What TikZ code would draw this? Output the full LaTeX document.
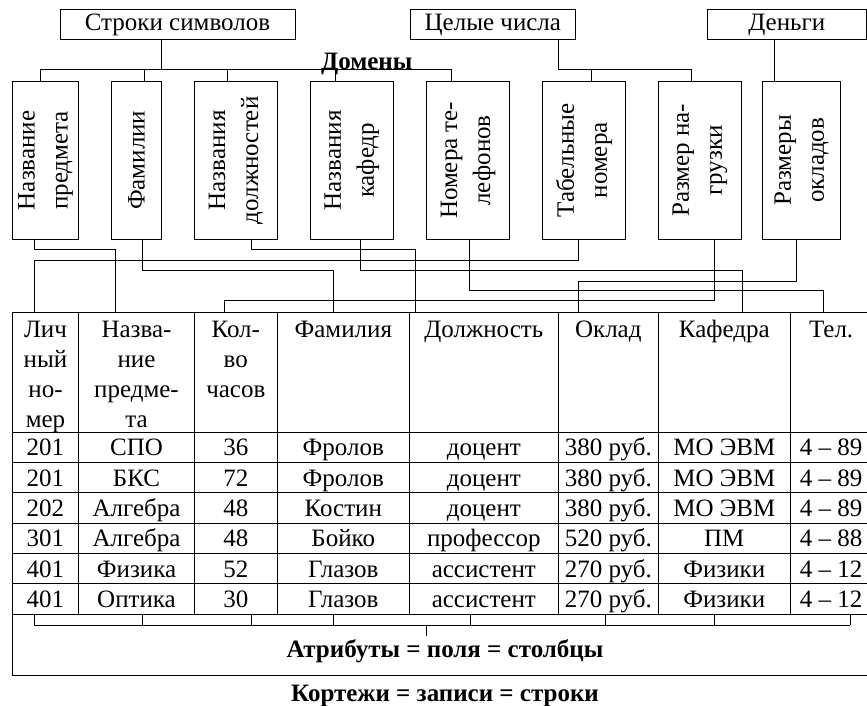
\documentclass[tikz,border=0pt]{standalone}
\usepackage{fontspec}
\setmainfont{Liberation Serif}
\begin{document}
\begin{tikzpicture}[x=1pt,y=-1pt,line width=1pt,
  txt/.style={font=\fontsize{25}{30}\selectfont},
  topbox/.style={txt,draw,inner sep=0pt,outer sep=0pt,minimum height=30.7pt,text height=17pt,text depth=5pt},
  dombox/.style={draw,anchor=north west,inner sep=0pt,outer sep=0pt,minimum height=157.3pt},
  domtext/.style={rotate=90,align=center,inner sep=0pt,font=\fontsize{25}{33}\selectfont},
  headcell/.style={draw,anchor=north west,inner sep=0pt,outer sep=0pt,minimum height=120pt},
  headtext/.style={txt,anchor=north,align=center,inner sep=0pt,yshift=-4pt},
  cell/.style={txt,draw,anchor=north west,inner sep=0pt,outer sep=0pt,minimum height=30.33pt,text height=22pt,text depth=5pt},
  caption/.style={font=\fontsize{25}{30}\selectfont\bfseries,inner sep=0pt,anchor=base}]
\useasboundingbox (0,0) rectangle (867,706);

% domain groups
\node[topbox,minimum width=235pt] (strs) at (177.5,24.65) {Строки символов};
\node[topbox,minimum width=165.7pt] (ints) at (492.85,24.65) {Целые числа};
\node[topbox,minimum width=159pt] (money) at (786.8,24.65) {Деньги};
\node[caption] (dom) at (366.7,70) {Домены};

% domains
\foreach \n/\x/\w/\t in {
  1/12.3/66.4/{Название\\предмета},
  2/111.3/50.4/{Фамилии},
  3/194.3/83/{Названия\\должностей},
  4/310.3/83/{Названия\\кафедр},
  5/426.7/82.6/{Номера те-\\лефонов},
  6/542.3/83.4/{Табельные\\номера},
  7/658.3/83.4/{Размер на-\\грузки},
  8/762.3/78.4/{Размеры\\окладов}}{
  \node[dombox,minimum width=\w pt] (d\n) at (\x,81.7) {};
  \node[domtext] (t\n) at (d\n.center) {\t};
}

% group-to-domain trees
\foreach \d/\o in {d1/28.4,d2/33,d3/33,d4/24.7,d5/25}
  \draw ([xshift=101.7pt]strs.south west) -- ++(0,30) -| ([xshift=\o pt]\d.north west);
\foreach \d/\o in {d6/49.4,d7/33.4}
  \draw ([xshift=148.3pt]ints.south west) -- ++(0,30) -| ([xshift=\o pt]\d.north west);
\draw ([xshift=67pt]money.south west) -- ([xshift=12pt]d8.north west);

% table
\def\colx{{12.3,78.7,194.3,277.3,409.3,558.3,658.3,790.3,872}}
\foreach \t [count=\c] in {{Лич\\ный\\но-\\мер},{Назва-\\ние\\предме-\\та},{Кол-\\во\\часов},
  {Фамилия},{Должность},{Оклад},{Кафедра},{Тел.}}{
  \pgfmathsetmacro\xl{\colx[\c-1]}
  \pgfmathsetmacro\xw{\colx[\c]-\colx[\c-1]}
  \node[headcell,minimum width=\xw pt] (h\c) at (\xl,312) {};
  \node[headtext] (ht\c) at (h\c.north) {\strut\t};
}
\foreach \row [count=\r] in {
  {201,СПО,36,Фролов,доцент,380 руб.,МО ЭВМ,4 – 89},
  {201,БКС,72,Фролов,доцент,380 руб.,МО ЭВМ,4 – 89},
  {202,Алгебра,48,Костин,доцент,380 руб.,МО ЭВМ,4 – 89},
  {301,Алгебра,48,Бойко,профессор,520 руб.,ПМ,4 – 88},
  {401,Физика,52,Глазов,ассистент,270 руб.,Физики,4 – 12},
  {401,Оптика,30,Глазов,ассистент,270 руб.,Физики,4 – 12}}{
  \foreach \v [count=\c] in \row {
    \pgfmathsetmacro\xl{\colx[\c-1]}
    \pgfmathsetmacro\xw{\colx[\c]-\colx[\c-1]}
    \pgfmathsetmacro\yt{432.3+(\r-1)*30.33}
    \node[cell,minimum width=\xw pt] (r\r c\c) at (\xl,\yt) {\v};
  }
}

% domain-to-attribute connectors
\draw ([xshift=21.7pt]d1.south west) -- ++(0,10)   -| ([xshift=36.6pt]h2.north west);
\draw ([xshift=36pt]d6.south west)   -- ++(0,21.5) -| ([xshift=21.7pt]h1.north west);
\draw ([xshift=31.4pt]d2.south west) -- ++(0,31)   -| ([xshift=56pt]h4.north west);
\draw ([xshift=57pt]d3.south west)   -- ++(0,10)   -| ([xshift=6pt]h5.north west);
\draw ([xshift=50pt]d4.south west)   -- ++(0,31)   -| ([xshift=84pt]h7.north west);
\draw ([xshift=56pt]d7.south west)   -- ++(0,61.7) -| ([xshift=30pt]h3.north west);
\draw ([xshift=43pt]d5.south west)   -- ++(0,51.7) -| ([xshift=33pt]h8.north west);
\draw ([xshift=34pt]d8.south west)   -- ++(0,42)   -| ([xshift=20pt]h6.north west);

% attribute bracket and tuple frame
\foreach \x in {34,142.7,251.7,333.3,470,605.7,714.3,850}
  \draw (\x,614.3) -- (\x,625);
\draw (34,625) -- (850,625);
\draw (426.7,625) -- (426.7,636);
\node[caption] (attr) at (445,657) {Атрибуты = поля = столбцы};
\draw (r6c1.south west) -- (12.3,675) -- (872,675);
\node[caption] (tuples) at (445,701) {Кортежи = записи = строки};
\end{tikzpicture}
\end{document}
